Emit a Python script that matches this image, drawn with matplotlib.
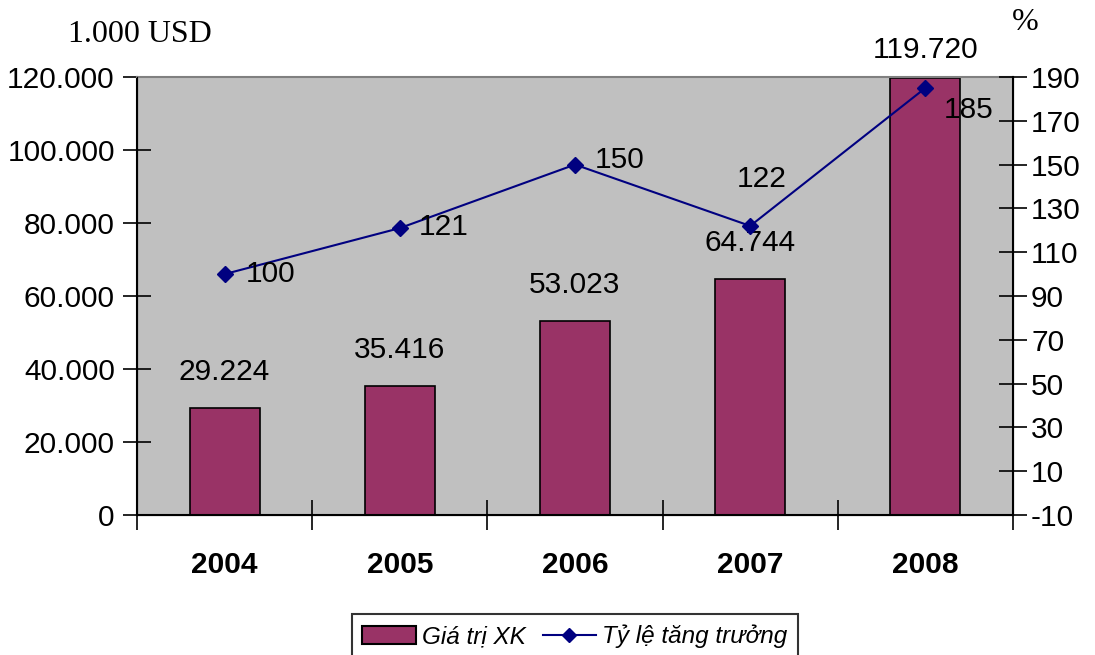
import numpy as np
import matplotlib.pyplot as plt
from matplotlib.patches import Patch
from matplotlib.lines import Line2D

years = ['2004', '2005', '2006', '2007', '2008']
export_value = [29224, 35416, 53023, 64744, 119720]
growth_rate = [100, 121, 150, 122, 185]
value_labels = ['29.224', '35.416', '53.023', '64.744', '119.720']

bar_color = '#993366'
line_color = '#000080'

plt.rcParams['font.family'] = ['Liberation Sans', 'DejaVu Sans']
plt.rcParams['axes.unicode_minus'] = False

fs = 21.5

fig = plt.figure(figsize=(10.95, 6.55), dpi=100)
ax = fig.add_axes([137/1095, 1-515/655, 876/1095, 438/655])
ax.set_facecolor('#C0C0C0')

x = np.arange(len(years))
ax.bar(x, export_value, width=0.4, color=bar_color, edgecolor='black', linewidth=1.2, zorder=2)

ax.set_xlim(-0.5, 4.5)
ax.set_ylim(0, 120000)
ax.set_yticks(np.arange(0, 120001, 20000))
ax.set_yticklabels([f'{v:,}'.replace(',', '.') for v in range(0, 120001, 20000)], fontsize=fs)
ax.tick_params(axis='y', direction='inout', length=20, width=1.2, pad=6)

ax.set_xticks(x)
ax.set_xticklabels(years, fontsize=fs, fontweight='bold')
ax.set_xticks(np.arange(-0.5, 4.6, 1), minor=True)
ax.tick_params(axis='x', which='major', length=0, pad=26)
ax.tick_params(axis='x', which='minor', direction='inout', length=22, width=1.2)

for s in ['left', 'bottom']:
    ax.spines[s].set_linewidth(1.5)
ax.spines['top'].set_color('#808080')
ax.spines['top'].set_linewidth(1.5)

label_offsets = [26, 26, 26, 26, 20]
for xi, v, lab, dy in zip(x, export_value, value_labels, label_offsets):
    ax.annotate(lab, (xi, v), xytext=(0, dy), textcoords='offset points',
                ha='center', va='center', fontsize=fs)

ax2 = ax.twinx()
ax2.set_ylim(-10, 190)
ax2.set_yticks(np.arange(-10, 191, 20))
ax2.tick_params(axis='y', direction='inout', length=20, width=1.2, pad=3, labelsize=fs)
ax2.spines['right'].set_linewidth(1.5)
ax2.spines['top'].set_visible(False)
ax2.plot(x, growth_rate, color=line_color, linewidth=1.5, marker='D', markersize=8, zorder=3)

offsets = [(15, 0), (14, 1), (14, 3), (8, 34), (13, -16)]
for xi, v, off in zip(x, growth_rate, offsets):
    ax2.annotate(str(v), (xi, v), xytext=off, textcoords='offset points',
                 ha='left' if off[0] > 10 else 'center', va='center', fontsize=fs)

fig.text(68/1095, 1-34/655, '1.000 USD', family='Liberation Serif', fontsize=23,
         ha='left', va='center')
fig.text(1025/1095, 1-22/655, '%', family='Liberation Serif', fontsize=23,
         ha='center', va='center')

handles = [Patch(facecolor=bar_color, edgecolor='black', linewidth=1.5),
           Line2D([0], [0], color=line_color, linewidth=1.5, marker='D', markersize=7)]
leg = fig.legend(handles, ['Giá trị XK', 'Tỷ lệ tăng trưởng'], loc='upper center',
                 bbox_to_anchor=(575/1095, 1-614/655), ncol=2, frameon=True, fancybox=False,
                 prop={'style': 'italic', 'size': 17.5}, handlelength=2.2, columnspacing=0.7,
                 handletextpad=0.25, borderpad=0.45, borderaxespad=0, edgecolor='black')
leg.get_frame().set_linewidth(1.5)

fig.savefig('out.png', dpi=100)
